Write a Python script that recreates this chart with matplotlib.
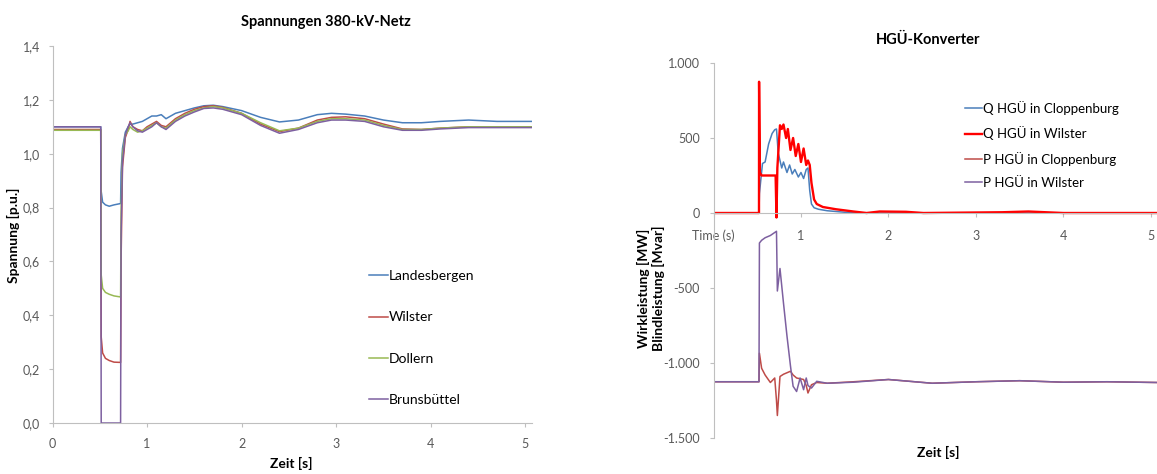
import matplotlib
matplotlib.use("Agg")
import matplotlib.pyplot as plt

plt.rcParams['font.family'] = ['Lato', 'DejaVu Sans']

# === Left chart: voltages in the 380 kV grid ===
t_u = [0, 0.51, 0.515, 0.53, 0.56, 0.60, 0.65, 0.72, 0.725, 0.74, 0.77, 0.80, 0.82, 0.85,
       0.90, 0.95, 1.00, 1.05, 1.10, 1.15, 1.20, 1.30, 1.40, 1.50, 1.60, 1.70, 1.80,
       2.00, 2.20, 2.40, 2.60, 2.80, 2.95, 3.10, 3.30, 3.50, 3.70, 3.90, 4.10, 4.40,
       4.70, 5.07]
landesbergen = [1.10, 1.10, 0.86, 0.82, 0.81, 0.805, 0.81, 0.815, 0.93, 1.02, 1.08, 1.10,
                1.11, 1.11, 1.115, 1.12, 1.13, 1.14, 1.14, 1.145, 1.13, 1.15, 1.16, 1.17,
                1.178, 1.18, 1.175, 1.16, 1.135, 1.118, 1.125, 1.145, 1.15, 1.147, 1.14,
                1.125, 1.115, 1.115, 1.12, 1.125, 1.12, 1.12]
wilster = [1.09, 1.09, 0.32, 0.26, 0.24, 0.232, 0.226, 0.225, 0.60, 0.95, 1.06, 1.09,
           1.12, 1.10, 1.09, 1.085, 1.10, 1.11, 1.12, 1.105, 1.10, 1.13, 1.15, 1.165,
           1.175, 1.178, 1.172, 1.15, 1.11, 1.082, 1.095, 1.125, 1.135, 1.137, 1.13,
           1.11, 1.092, 1.09, 1.095, 1.10, 1.10, 1.10]
dollern = [1.087, 1.087, 0.55, 0.50, 0.485, 0.478, 0.472, 0.468, 0.78, 1.00, 1.07, 1.085,
           1.10, 1.09, 1.08, 1.085, 1.095, 1.105, 1.115, 1.10, 1.095, 1.125, 1.145,
           1.16, 1.17, 1.175, 1.17, 1.15, 1.115, 1.085, 1.095, 1.12, 1.13, 1.13, 1.125,
           1.105, 1.09, 1.09, 1.095, 1.10, 1.10, 1.10]
brunsbuettel = [1.10, 1.10, 0.0, 0.0, 0.0, 0.0, 0.0, 0.0, 0.70, 0.97, 1.07, 1.10,
                1.115, 1.10, 1.085, 1.08, 1.09, 1.10, 1.115, 1.10, 1.09, 1.12, 1.14,
                1.155, 1.168, 1.17, 1.165, 1.145, 1.105, 1.076, 1.09, 1.115, 1.125, 1.125,
                1.12, 1.10, 1.087, 1.087, 1.092, 1.097, 1.097, 1.097]

u_labels = ['Landesbergen', 'Wilster', 'Dollern', 'Brunsbüttel']
u_colors = ['#4a7ebb', '#be4b48', '#98b954', '#7d60a0']
u_yticks = [0, 0.2, 0.4, 0.6, 0.8, 1.0, 1.2, 1.4]
u_yticklabels = ['0,0', '0,2', '0,4', '0,6', '0,8', '1,0', '1,2', '1,4']
x_ticks = [0, 1, 2, 3, 4, 5]

# === Right chart: HVDC converter power ===
t_q_clp = [0, 0.52, 0.525, 0.56, 0.59, 0.63, 0.67, 0.70, 0.72, 0.74, 0.78, 0.80, 0.84,
           0.87, 0.90, 0.93, 0.97, 1.00, 1.03, 1.06, 1.08, 1.10, 1.12, 1.15, 1.20, 1.30,
           1.50, 1.70, 5.07]
q_clp = [0, 0, 130, 330, 340, 460, 530, 555, 560, 400, 300, 340, 270, 320, 260, 290,
         240, 270, 230, 290, 300, 150, 60, 35, 25, 15, 5, 0, 0]

t_q_wil = [0, 0.52, 0.521, 0.53, 0.55, 0.60, 0.71, 0.72, 0.73, 0.76, 0.78, 0.80, 0.83,
           0.85, 0.88, 0.91, 0.94, 0.97, 1.00, 1.03, 1.06, 1.08, 1.10, 1.12, 1.15, 1.18,
           1.25, 1.40, 1.60, 1.75, 1.90, 2.20, 2.40, 3.30, 3.60, 3.80, 4.00, 5.07]
q_wil = [0, 0, 875, 270, 250, 250, 250, -30, 300, 585, 560, 590, 500, 560, 420, 500,
         380, 460, 340, 430, 320, 350, 320, 200, 90, 60, 40, 25, 10, 0, 10, 8, 0, 5,
         10, 5, 0, 0]

t_p = [0, 0.52, 0.525, 0.55, 0.59, 0.65, 0.70, 0.72, 0.73, 0.76, 0.80, 0.84, 0.88, 0.91,
       0.95, 0.99, 1.03, 1.06, 1.08, 1.12, 1.18, 1.30, 1.60, 2.00, 2.50, 3.00, 3.50,
       4.00, 4.50, 5.07]
p_clp = [-1125, -1125, -935, -1035, -1080, -1130, -1100, -1250, -1350, -1090, -1075,
         -1065, -1055, -1080, -1100, -1105, -1110, -1150, -1200, -1145, -1130, -1135,
         -1125, -1110, -1135, -1125, -1118, -1128, -1125, -1130]
p_wil = [-1125, -1125, -200, -182, -165, -150, -130, -122, -520, -370, -600, -820,
         -1020, -1155, -1190, -1100, -1178, -1100, -1150, -1167, -1122, -1135, -1128,
         -1110, -1135, -1125, -1118, -1128, -1125, -1130]

p_labels = ['Q HGÜ in Cloppenburg', 'Q HGÜ in Wilster', 'P HGÜ in Cloppenburg', 'P HGÜ in Wilster']
p_colors = ['#4a7ebb', '#ff0000', '#be4b48', '#7d60a0']
p_yticks = [-1500, -1000, -500, 0, 500, 1000]
p_yticklabels = ['-1.500', '-1.000', '-500', '0', '500', '1.000']
p_xticklabels = ['Time (s)', '1', '2', '3', '4', '5']

W, H = 1157, 474
fig = plt.figure(figsize=(W / 100, H / 100), dpi=100)

grey = '#bfbfbf'
tick_col = '#595959'


def style_axes(ax):
    for s in ['top', 'right']:
        ax.spines[s].set_visible(False)
    for s in ['left', 'bottom']:
        ax.spines[s].set_color(grey)
        ax.spines[s].set_linewidth(0.8)
    ax.tick_params(colors=grey, labelcolor=tick_col, labelsize=9, length=3, width=0.8)


# left panel
ax1 = fig.add_axes([52.5 / W, 1 - 423 / H, (532 - 52.5) / W, (423 - 46) / H])
style_axes(ax1)
for vals, lab, col in zip([landesbergen, wilster, dollern, brunsbuettel], u_labels, u_colors):
    ax1.plot(t_u, vals, color=col, lw=1.1, label=lab)
ax1.set_xlim(0, 5.07)
ax1.set_ylim(0, 1.4)
ax1.set_xticks(x_ticks)
ax1.set_yticks(u_yticks)
ax1.set_yticklabels(u_yticklabels)
ax1.tick_params(axis='x', pad=8)
ax1.tick_params(axis='y', pad=6)
ax1.legend(loc='upper left', bbox_to_anchor=(369 / W, 1 - 270 / H), bbox_transform=fig.transFigure,
           frameon=False, fontsize=10, handlelength=1.35, handletextpad=0.1,
           labelspacing=2.12, borderpad=0, borderaxespad=0)
fig.text(326 / W, 1 - 22 / H, 'Spannungen 380-kV-Netz', ha='center', va='center',
         fontsize=10.5, fontweight='bold')
fig.text(13 / W, 1 - 235 / H, 'Spannung [p.u.]', ha='center', va='center', rotation=90,
         fontsize=10, fontweight='bold')
fig.text(291 / W, 1 - 463 / H, 'Zeit [s]', ha='center', va='center', fontsize=10, fontweight='bold')

# right panel
ax2 = fig.add_axes([713.5 / W, 1 - 438 / H, (W - 713.5) / W, (438 - 63) / H])
style_axes(ax2)
ax2.spines['bottom'].set_position(('data', 0))
ax2.plot(t_q_clp, q_clp, color=p_colors[0], lw=1.1, label=p_labels[0])
ax2.plot(t_q_wil, q_wil, color=p_colors[1], lw=1.7, label=p_labels[1])
ax2.plot(t_p, p_clp, color=p_colors[2], lw=1.1, label=p_labels[2])
ax2.plot(t_p, p_wil, color=p_colors[3], lw=1.1, label=p_labels[3])
ax2.set_xlim(0, 5.07)
ax2.set_ylim(-1500, 1000)
ax2.set_xticks(x_ticks)
ax2.set_xticklabels(p_xticklabels)
ax2.set_yticks(p_yticks)
ax2.set_yticklabels(p_yticklabels)
ax2.tick_params(axis='x', pad=9)
ax2.tick_params(axis='y', pad=7)
ax2.legend(loc='upper left', bbox_to_anchor=(965 / W, 1 - 101 / H), bbox_transform=fig.transFigure,
           frameon=False, fontsize=9.5, handlelength=1.3, handletextpad=0.1,
           labelspacing=0.86, borderpad=0, borderaxespad=0)
fig.text(928 / W, 1 - 40 / H, 'HGÜ-Konverter', ha='center', va='center',
         fontsize=10.5, fontweight='bold')
fig.text(651 / W, 1 - 288 / H, 'Wirkleistung [MW]\nBlindleistung [Mvar]', ha='center', va='center',
         rotation=90, fontsize=10, fontweight='bold', linespacing=1.25)
fig.text(938 / W, 1 - 452 / H, 'Zeit [s]', ha='center', va='center', fontsize=10, fontweight='bold')

fig.savefig('out.png', dpi=100)
